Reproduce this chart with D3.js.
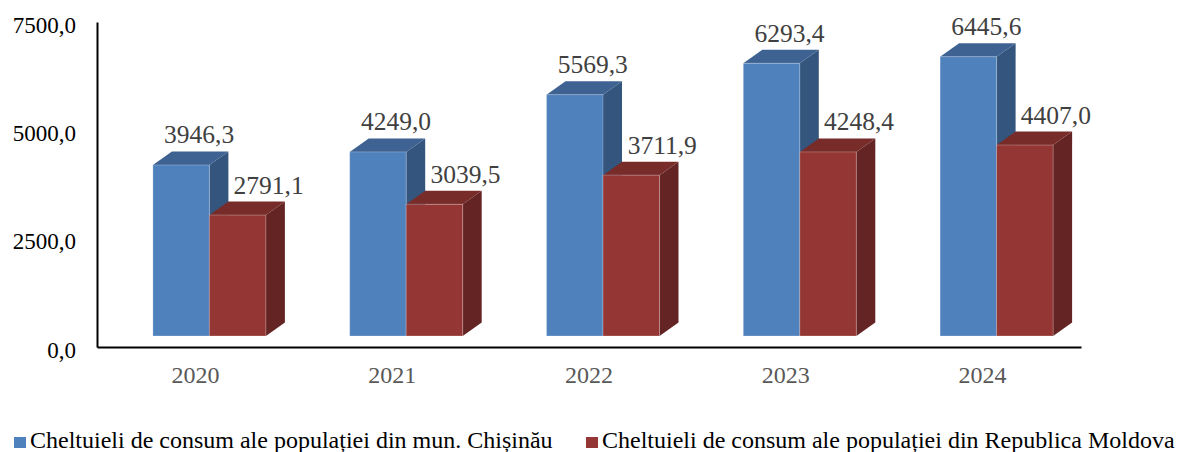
<!DOCTYPE html>
<html>
<head>
<meta charset="utf-8">
<script src="https://cdn.jsdelivr.net/npm/d3@7"></script>
<style>
  body { margin: 0; background: #ffffff; }
  svg { display: block; }
</style>
</head>
<body>
<svg id="svg" width="1177" height="452"></svg>
<script>
// Data
const years = ["2020", "2021", "2022", "2023", "2024"];
const chisinau = [3946.3, 4249.0, 5569.3, 6293.4, 6445.6];
const moldova = [2791.1, 3039.5, 3711.9, 4248.4, 4407.0];
const seriesNames = [
  "Cheltuieli de consum ale populației din mun. Chișinău",
  "Cheltuieli de consum ale populației din Republica Moldova"
];
const yTicks = [0, 2500, 5000, 7500];

// Layout constants
const FONT = "Liberation Serif, Times New Roman, serif";
const AXIS_LEFT = 97, AXIS_RIGHT = 1081, AXIS_TOP = 22, AXIS_BOTTOM = 347;
const BAR_W = 56.5;
const FRONT_DX = 14, FRONT_DY = -11;   // front face shift relative to axis plane
const DEPTH_X = 19, DEPTH_Y = -13.5;   // 3d depth
const fmt = v => d3.format(".1f")(v).replace(".", ",");

const colors = [
  {front: "#4f81bd", side: "#34557d", top: "#3e6392"},
  {front: "#943634", side: "#632423", top: "#772c2a"}
];

const svg = d3.select("svg").attr("font-family", FONT);

const x = d3.scaleBand().domain(years).range([AXIS_LEFT, AXIS_RIGHT]).padding(0);
const y = d3.scaleLinear().domain([0, 7500]).range([AXIS_BOTTOM, AXIS_TOP]);

// Bars
const series = [chisinau, moldova];
const bars = svg.append("g");
years.forEach((yr, i) => {
  const c = x(yr) + x.bandwidth() / 2 + FRONT_DX;
  series.forEach((vals, s) => {
    const x0 = c - BAR_W + s * BAR_W, x1 = x0 + BAR_W;
    const yb = y(0) + FRONT_DY, yt = y(vals[i]) + FRONT_DY;
    const col = colors[s];
    // side
    bars.append("path")
      .attr("d", `M${x1},${yt}L${x1 + DEPTH_X},${yt + DEPTH_Y}L${x1 + DEPTH_X},${yb + DEPTH_Y}L${x1},${yb}Z`)
      .attr("fill", col.side);
    // top
    bars.append("path")
      .attr("d", `M${x0},${yt}L${x0 + DEPTH_X},${yt + DEPTH_Y}L${x1 + DEPTH_X},${yt + DEPTH_Y}L${x1},${yt}Z`)
      .attr("fill", col.top);
    // front
    bars.append("rect")
      .attr("x", x0).attr("y", yt)
      .attr("width", BAR_W).attr("height", yb - yt)
      .attr("fill", col.front)
      .attr("stroke", "rgba(255,255,255,0.25)")
      .attr("stroke-width", 1);
  });
});

// Value labels
const labelShift = [18, 31];
years.forEach((yr, i) => {
  const c = x(yr) + x.bandwidth() / 2 + FRONT_DX;
  series.forEach((vals, s) => {
    const cx = c - BAR_W / 2 + s * BAR_W + labelShift[s];
    svg.append("text")
      .attr("x", cx)
      .attr("y", y(vals[i]) + FRONT_DY + DEPTH_Y - 8)
      .attr("text-anchor", "middle")
      .attr("font-family", FONT)
      .attr("font-size", 25.5)
      .attr("fill", "#404040")
      .text(fmt(vals[i]));
  });
});

// Y axis
const yAxis = svg.append("g")
  .attr("transform", `translate(${AXIS_LEFT},0)`)
  .call(d3.axisLeft(y).tickValues(yTicks).tickSize(0).tickPadding(21).tickFormat(fmt));
yAxis.select(".domain").attr("stroke", "#000").attr("stroke-width", 2);
yAxis.selectAll("text")
  .attr("font-family", FONT)
  .attr("font-size", 23)
  .attr("fill", "#000")
  .attr("dy", 10);

// X axis
const xAxis = svg.append("g")
  .attr("transform", `translate(0,${AXIS_BOTTOM})`)
  .call(d3.axisBottom(x).tickSize(0).tickPadding(0));
xAxis.select(".domain").attr("stroke", "#000").attr("stroke-width", 2);
xAxis.selectAll("text")
  .attr("font-family", FONT)
  .attr("font-size", 24)
  .attr("fill", "#595959")
  .attr("y", 36)
  .attr("dy", 0);

// Legend
const legendX = [14, 586];
const legend = svg.append("g");
seriesNames.forEach((name, s) => {
  legend.append("rect")
    .attr("x", legendX[s]).attr("y", 437)
    .attr("width", 12).attr("height", 11)
    .attr("fill", colors[s].front);
  legend.append("text")
    .attr("x", legendX[s] + 16).attr("y", 448)
    .attr("font-family", FONT)
    .attr("font-size", 24)
    .attr("fill", "#000")
    .text(name);
});
</script>
</body>
</html>
